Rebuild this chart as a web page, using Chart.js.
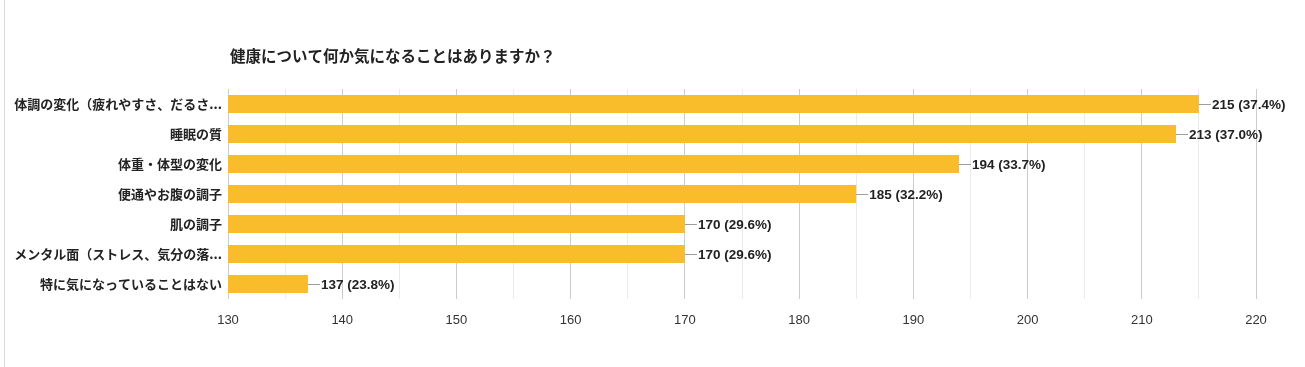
<!DOCTYPE html>
<html><head><meta charset="utf-8">
<script src="https://cdn.jsdelivr.net/npm/chart.js@4.4.1/dist/chart.umd.min.js"></script>
<style>
html,body{margin:0;padding:0;background:#fff;}
#wrap{position:relative;width:1305px;height:367px;}
#frame{position:absolute;left:4px;top:0;width:1px;height:367px;background:#d9d9d9;}
canvas{position:absolute;left:0;top:0;}
</style></head>
<body>
<div id="wrap"><canvas id="c" width="1305" height="367"></canvas><div id="frame"></div></div>
<script>
const titleText = '健康について何か気になることはありますか？';
const categories = ['体調の変化（疲れやすさ、だるさ...', '睡眠の質', '体重・体型の変化', '便通やお腹の調子', '肌の調子', 'メンタル面（ストレス、気分の落...', '特に気になっていることはない'];
const counts = [215, 213, 194, 185, 170, 170, 137];
const percents = ['37.4%', '37.0%', '33.7%', '32.2%', '29.6%', '29.6%', '23.8%'];
const xMin = 130, xMax = 220;

const FONT_JP = '"Noto Sans CJK JP", "Liberation Sans", Arial, sans-serif';
const FONT_NUM = '"Liberation Sans", Arial, sans-serif';

const labelPlugin = {
  id: 'labels',
  afterDatasetsDraw(chart) {
    const ctx = chart.ctx;
    const meta = chart.getDatasetMeta(0);
    const xs = chart.scales.x;
    ctx.save();
    meta.data.forEach((bar, i) => {
      const x = xs.getPixelForValue(counts[i]);
      const y = bar.y;
      ctx.strokeStyle = '#9e9e9e';
      ctx.lineWidth = 1;
      ctx.beginPath();
      ctx.moveTo(x, Math.round(y) + 0.5);
      ctx.lineTo(x + 12, Math.round(y) + 0.5);
      ctx.stroke();
      ctx.fillStyle = '#222';
      ctx.font = 'bold 13.5px ' + FONT_NUM;
      ctx.textBaseline = 'middle';
      ctx.textAlign = 'left';
      ctx.fillText(counts[i] + ' (' + percents[i] + ')', x + 13, y + 1);
    });
    ctx.fillStyle = '#222';
    ctx.font = 'bold 15.5px ' + FONT_JP;
    ctx.textBaseline = 'middle';
    ctx.textAlign = 'left';
    ctx.fillText(titleText, chart.chartArea.left + 2, 56);
    ctx.restore();
  }
};

new Chart(document.getElementById('c'), {
  type: 'bar',
  data: {
    labels: categories,
    datasets: [{
      data: counts,
      backgroundColor: '#f9bc2a',
      borderWidth: 0,
      barPercentage: 0.6,
      categoryPercentage: 1.0
    }]
  },
  options: {
    indexAxis: 'y',
    responsive: false,
    animation: false,
    layout: { padding: { left: 0, right: 49, top: 89, bottom: 0 } },
    plugins: { legend: { display: false }, tooltip: { enabled: false }, title: { display: false } },
    scales: {
      x: {
        min: xMin, max: xMax,
        ticks: {
          stepSize: 5,
          autoSkip: false,
          maxRotation: 0,
          color: '#333',
          font: { family: FONT_NUM, size: 13 },
          padding: 14,
          callback: (v) => (v % 10 === 0 ? String(v) : '')
        },
        grid: {
          color: (c) => (c.tick && c.tick.value % 10 === 0 ? '#cccccc' : '#ebebeb'),
          drawTicks: false,
          lineWidth: 1
        },
        border: { display: false },
        afterFit(scale) { scale.height = 68; }
      },
      y: {
        ticks: {
          color: '#222',
          font: { family: FONT_JP, size: 13, weight: 'bold' },
          padding: 6,
          autoSkip: false
        },
        grid: { display: false, drawTicks: false },
        border: { display: false },
        afterFit(scale) { scale.width = 228; }
      }
    }
  },
  plugins: [labelPlugin]
});
</script>
</body></html>
